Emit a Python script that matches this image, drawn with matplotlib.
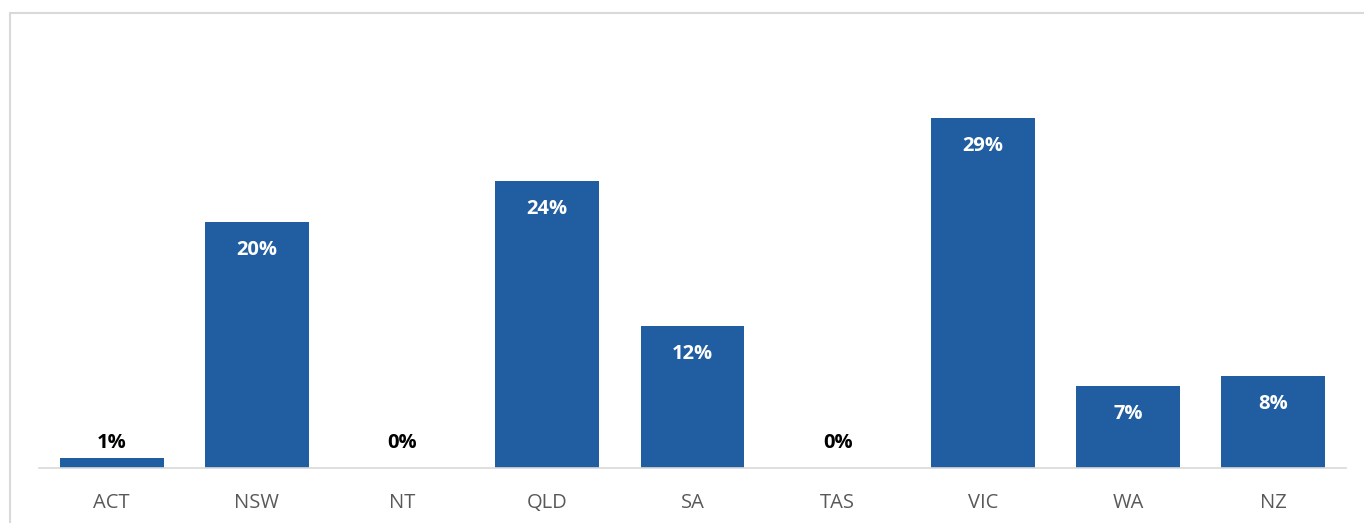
import matplotlib.pyplot as plt
from matplotlib.patches import Rectangle

# share of respondents by state / territory
regions = ['ACT', 'NSW', 'NT', 'QLD', 'SA', 'TAS', 'VIC', 'WA', 'NZ']
shares = [0.8, 20.4, 0.0, 23.8, 11.8, 0.0, 29.0, 6.8, 7.6]
labels = ['1%', '20%', '0%', '24%', '12%', '0%', '29%', '7%', '8%']

plt.rcParams['font.family'] = ['Open Sans', 'DejaVu Sans']

W, H = 1364, 523
fig = plt.figure(figsize=(W / 100, H / 100), dpi=100)
# light frame around the chart area (runs off the right and bottom edges)
fig.patches.append(Rectangle((10 / W, -0.1), 1.2, (H - 13) / H + 0.1,
                             transform=fig.transFigure, fill=False,
                             edgecolor='#d9d9d9', linewidth=1.5))

ax = fig.add_axes([39 / W, (H - 468) / H, (1346 - 39) / W, (468 - 46) / H])
x = range(len(regions))
bars = ax.bar(x, shares, width=0.716, color='#215EA1')

for rect, val, lab in zip(bars, shares, labels):
    cx = rect.get_x() + rect.get_width() / 2
    if val >= 5:
        ax.annotate(lab, (cx, val), xytext=(0, -28), textcoords='offset pixels',
                    ha='center', va='center', color='white',
                    fontsize=14.5, fontweight='bold')
    else:
        ax.annotate(lab, (cx, 0), xytext=(0, 25), textcoords='offset pixels',
                    ha='center', va='center', color='black',
                    fontsize=14.5, fontweight='bold')

ax.set_xlim(-0.5, len(regions) - 0.5)
ax.set_ylim(0, 35)
ax.set_xticks(list(x))
ax.set_xticklabels(regions, fontsize=14.5, color='#595959')
ax.tick_params(axis='x', length=0, pad=18)
ax.set_yticks([])
for side in ['top', 'right', 'left']:
    ax.spines[side].set_visible(False)
ax.spines['bottom'].set_color('#d9d9d9')
ax.spines['bottom'].set_linewidth(1.2)

fig.savefig('out.png', dpi=100)
